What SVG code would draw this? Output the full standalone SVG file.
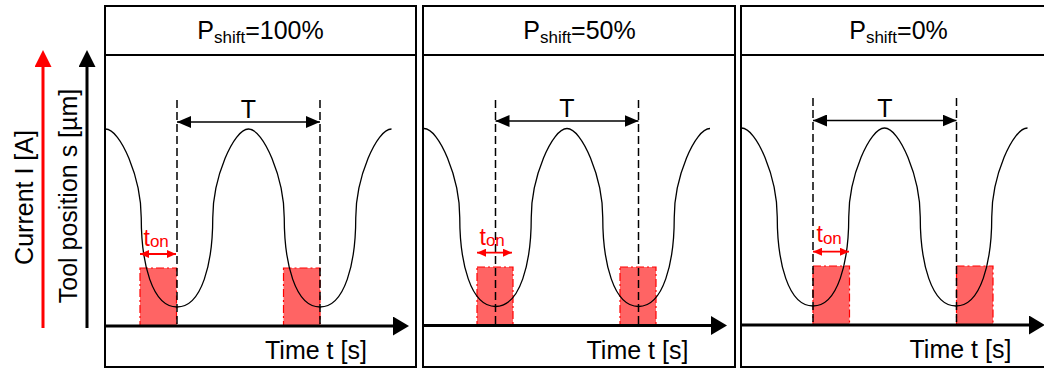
<svg xmlns="http://www.w3.org/2000/svg" width="1044" height="369" viewBox="0 0 1044 369">
<style>
text{font-family:"Liberation Sans",Arial,sans-serif;}
.box{fill:none;stroke:#000;stroke-width:2;}
.hdr{font-size:25px;text-anchor:middle;fill:#000;}
.sub{font-size:17px;}
.lbl{font-size:25px;fill:#000;}
.wave{fill:none;stroke:#000;stroke-width:1.3;}
.dash{stroke:#000;stroke-width:1.5;stroke-dasharray:8 4;}
.tarr{stroke:#000;stroke-width:1.5;marker-start:url(#hd);marker-end:url(#hd);}
.pulse{fill:#ff6464;stroke:#ff0000;stroke-width:1.2;stroke-dasharray:8 3 2 3;}
.ton{stroke:#ff0000;stroke-width:1.8;marker-start:url(#hr);marker-end:url(#hr);}
.tont{font-size:23px;fill:#ff0000;}
.axis{stroke:#000;stroke-width:3;marker-end:url(#ha);}
</style>
<defs>
<marker id="ha" markerUnits="userSpaceOnUse" markerWidth="16" markerHeight="19" refX="8" refY="9.5" orient="auto"><path d="M0,0 L16,9.5 L0,19 z" fill="#000"/></marker>
<marker id="hvk" markerUnits="userSpaceOnUse" markerWidth="17" markerHeight="17" refX="9" refY="8.5" orient="auto"><path d="M0,0 L17,8.5 L0,17 z" fill="#000"/></marker>
<marker id="hvr" markerUnits="userSpaceOnUse" markerWidth="17" markerHeight="17" refX="9" refY="8.5" orient="auto"><path d="M0,0 L17,8.5 L0,17 z" fill="#ff0000"/></marker>
<marker id="hd" markerUnits="userSpaceOnUse" markerWidth="14" markerHeight="12" refX="14" refY="6" orient="auto-start-reverse"><path d="M0,0 L14,6 L0,12 z" fill="#000"/></marker>
<marker id="hr" markerUnits="userSpaceOnUse" markerWidth="9" markerHeight="8" refX="9" refY="4" orient="auto-start-reverse"><path d="M0,0 L9,4 L0,8 z" fill="#ff0000"/></marker>
<path id="wv" d="M0,0 c15,0 35.75,49 35.75,89 c0,45 10.75,89 35.75,89 c25,0 35.75,-44 35.75,-89 c0,-40 20.75,-89 35.75,-89 c15,0 35.75,49 35.75,89 c0,45 10.75,89 35.75,89 c25,0 35.75,-44 35.75,-89 c0,-40 20.75,-89 35.75,-89"/>
</defs>

<g id="yaxes">
<line x1="43" y1="328" x2="43" y2="58" stroke="#ff0000" stroke-width="3" marker-end="url(#hvr)"/>
<line x1="87" y1="328" x2="87" y2="58" stroke="#000" stroke-width="3" marker-end="url(#hvk)"/>
<text class="lbl" transform="translate(32.5,197.5) rotate(-90)" text-anchor="middle">Current I [A]</text>
<text class="lbl" transform="translate(76.5,196) rotate(-90)" text-anchor="middle">Tool position s [µm]</text>
</g>

<g id="panel1">
<rect class="box" x="105" y="6" width="311" height="361"/>
<line x1="105" y1="55" x2="416" y2="55" stroke="#000" stroke-width="2"/>
<text class="hdr" x="260.5" y="39">P<tspan class="sub" dy="3.5">shift</tspan><tspan dy="-3.5">=100%</tspan></text>
<rect class="pulse" x="140" y="268" width="36.5" height="58"/>
<rect class="pulse" x="283.5" y="268" width="36.5" height="58"/>
<use href="#wv" class="wave" x="105.5" y="129"/>
<line class="dash" x1="177" y1="100" x2="177" y2="326"/>
<line class="dash" x1="320" y1="100" x2="320" y2="326"/>
<line class="tarr" x1="177" y1="122" x2="320" y2="122"/>
<text class="lbl" x="248.5" y="118" text-anchor="middle">T</text>
<line class="ton" x1="140" y1="254" x2="176" y2="254"/>
<text class="tont" x="143.5" y="245.5">t<tspan class="sub" dy="1.5">on</tspan></text>
<text class="lbl" x="265" y="359">Time t [s]</text>
</g>

<g id="panel2">
<rect class="box" x="423" y="6" width="312" height="361"/>
<line x1="423" y1="55" x2="735" y2="55" stroke="#000" stroke-width="2"/>
<text class="hdr" x="579.5" y="39">P<tspan class="sub" dy="3.5">shift</tspan><tspan dy="-3.5">=50%</tspan></text>
<rect class="pulse" x="477" y="267" width="36" height="59"/>
<rect class="pulse" x="620" y="267" width="36" height="59"/>
<use href="#wv" class="wave" x="424" y="128.5"/>
<line class="dash" x1="495.5" y1="100" x2="495.5" y2="326"/>
<line class="dash" x1="638.5" y1="100" x2="638.5" y2="326"/>
<line class="tarr" x1="495.5" y1="121" x2="638.5" y2="121"/>
<text class="lbl" x="567" y="117" text-anchor="middle">T</text>
<line class="ton" x1="477" y1="252.7" x2="512" y2="252.7"/>
<text class="tont" x="479.5" y="244.5">t<tspan class="sub" dy="1.5">on</tspan></text>
<text class="lbl" x="586.5" y="358.5">Time t [s]</text>
</g>

<g id="panel3">
<rect class="box" x="741" y="6" width="312" height="361"/>
<line x1="741" y1="55" x2="1053" y2="55" stroke="#000" stroke-width="2"/>
<text class="hdr" x="898.5" y="39">P<tspan class="sub" dy="3.5">shift</tspan><tspan dy="-3.5">=0%</tspan></text>
<rect class="pulse" x="813" y="266" width="36.5" height="59"/>
<rect class="pulse" x="956.5" y="266" width="36.5" height="59"/>
<use href="#wv" class="wave" x="741.5" y="128"/>
<line class="dash" x1="813" y1="98" x2="813" y2="325"/>
<line class="dash" x1="956.5" y1="98" x2="956.5" y2="325"/>
<line class="tarr" x1="813" y1="120.5" x2="956.5" y2="120.5"/>
<text class="lbl" x="885" y="116.5" text-anchor="middle">T</text>
<line class="ton" x1="813" y1="251.7" x2="849" y2="251.7"/>
<text class="tont" x="816.5" y="242">t<tspan class="sub" dy="1.5">on</tspan></text>
<text class="lbl" x="909.5" y="358">Time t [s]</text>
</g>

<g id="connectors">
<line class="axis" x1="105" y1="326" x2="401" y2="326"/>
<line class="axis" x1="423" y1="325.5" x2="719" y2="325.5"/>
<line class="axis" x1="741" y1="325" x2="1037" y2="325"/>
</g>
</svg>
